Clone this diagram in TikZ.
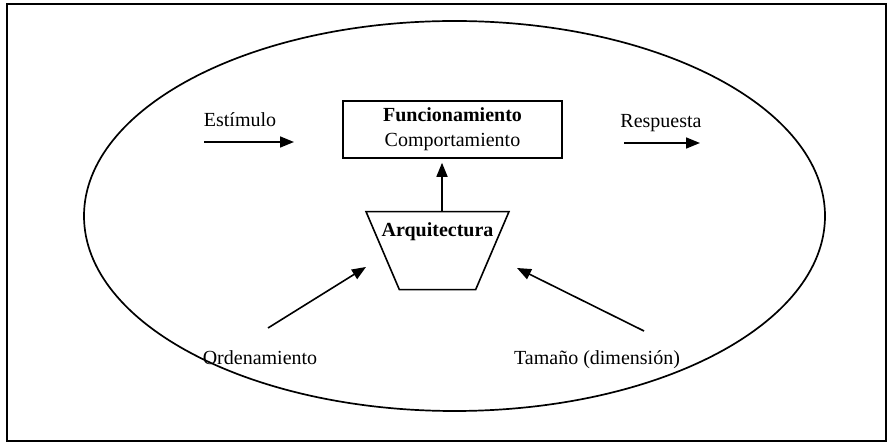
\documentclass[tikz,border=0pt]{standalone}
\usepackage{fontspec}
\setmainfont{Liberation Serif}
\tikzset{
    marco/.style={rectangle,draw=black,line width=1.7pt,inner sep=0pt},
    entorno/.style={ellipse,draw=black,line width=1.7pt,inner sep=0pt},
    bloque/.style={rectangle,draw=black,line width=1.6pt,align=center,inner sep=0pt,minimum width=219pt,minimum height=57pt},
    embudo/.style={trapezium,draw=black,line width=1.6pt,shape border rotate=180,trapezium angle=66.4,trapezium stretches=true,inner sep=2pt,minimum width=143pt,minimum height=78pt},
    etiqueta/.style={anchor=base,inner sep=0pt},
    flecha/.style={->,line width=1.6pt},
}
\usetikzlibrary{shapes.geometric,arrows.meta}
\usetikzlibrary{positioning}

\begin{document}
\begin{tikzpicture}[x=1pt,y=-1pt,>={Triangle[length=14pt,width=11pt]},font=\fontsize{20}{25}\selectfont]
\useasboundingbox (0,0) rectangle (892,443);
\node[marco,minimum width=879pt,minimum height=437pt] (caja) at (446.5,222.5) {};
\node[entorno,minimum width=741pt,minimum height=390pt] (sistema) at (454.5,216) {};
\node[bloque] (fun) at (452.5,129.5) {\textbf{Funcionamiento}\\Comportamiento};
\node[embudo] (arq) [below=52pt of fun,xshift=-15pt] {};
\node[etiqueta] (arqtxt) at (437.5,237) {\textbf{Arquitectura}};
\node[etiqueta] (est) at (240,127) {Estímulo};
\node[etiqueta] (resp) at (661,128) {Respuesta};
\node[etiqueta] (ord) at (260,365) {Ordenamiento};
\node[etiqueta] (tam) at (597,365) {Tamaño (dimensión)};
% extremos libres de las flechas
\coordinate (est1) at (204,142);
\coordinate (est2) at (294,142);
\coordinate (resp1) at (624,143);
\coordinate (resp2) at (700,143);
\coordinate (ord1) at (268,328);
\coordinate (ord2) at (366,267);
\coordinate (tam1) at (644,331);
\coordinate (tam2) at (517,268);
\draw[flecha] (est1) -- (est2);
\draw[flecha] (resp1) -- (resp2);
\draw[flecha] (ord1) -- (ord2);
\draw[flecha] (tam1) -- (tam2);
\draw[flecha,shorten >=4pt] ([xshift=4.5pt]arq.north) -- ([xshift=4.5pt]arq.north |- fun.south);
\end{tikzpicture}
\end{document}
